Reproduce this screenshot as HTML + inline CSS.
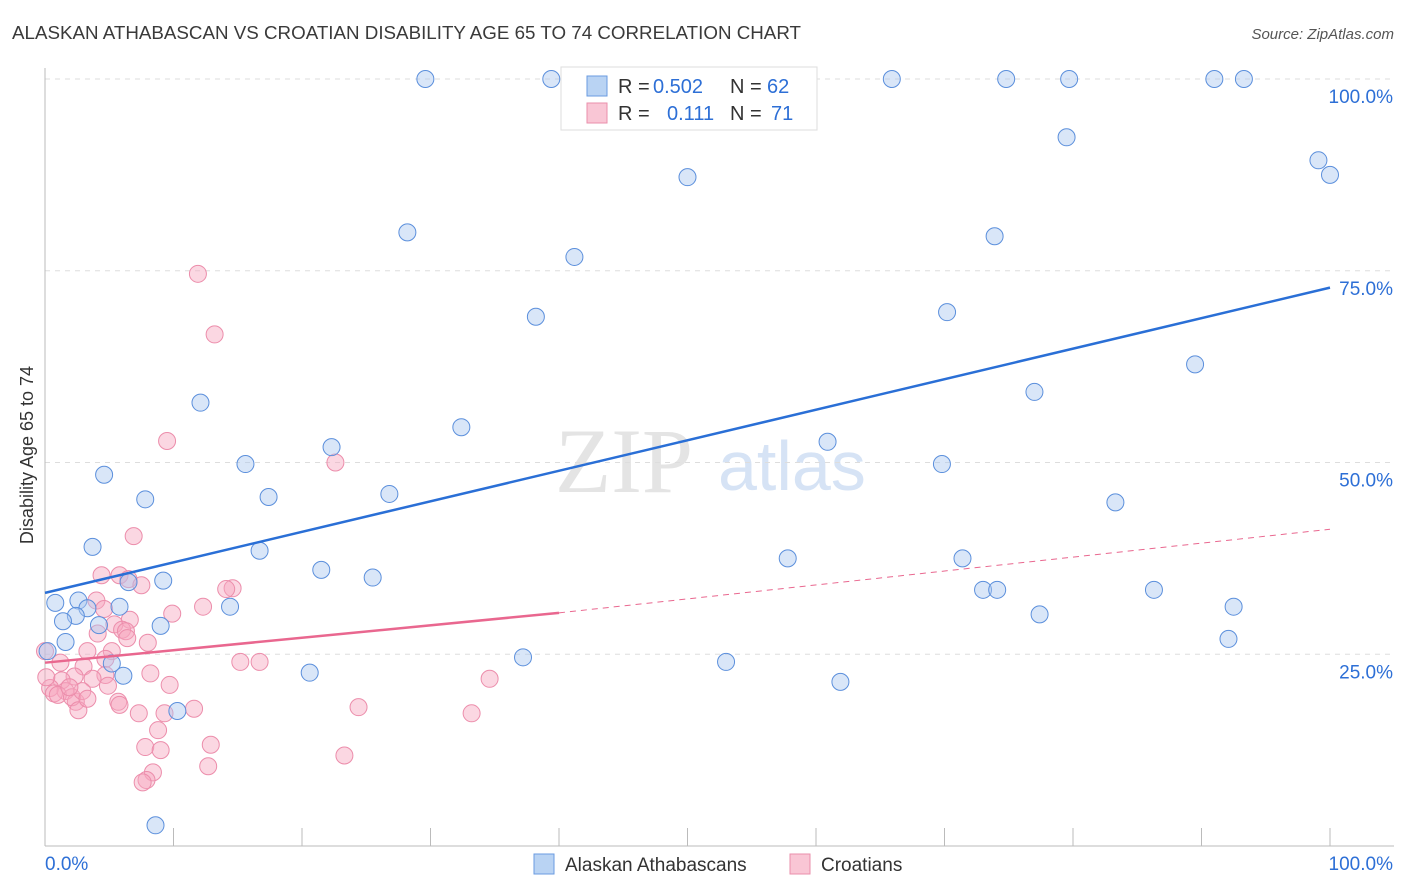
<!DOCTYPE html>
<html><head><meta charset="utf-8"><style>
body{margin:0;background:#fff;font-family:"Liberation Sans",sans-serif;}
svg{display:block}
</style></head><body>
<svg id="chart" width="1406" height="892">
<text x="12" y="39" font-size="18.5" fill="#3a3a3a" textLength="789" lengthAdjust="spacingAndGlyphs">ALASKAN ATHABASCAN VS CROATIAN DISABILITY AGE 65 TO 74 CORRELATION CHART</text>
<text x="1394" y="39" font-size="15" font-style="italic" fill="#555" text-anchor="end">Source: ZipAtlas.com</text>
<text x="33" y="455" font-size="18" fill="#333" text-anchor="middle" transform="rotate(-90 33 455)">Disability Age 65 to 74</text>
<text x="555" y="492" font-size="92" fill="#e4e4e4" font-family="Liberation Serif,serif">ZIP</text>
<text x="718" y="490" font-size="70" fill="#d6e3f5">atlas</text>
<g id="grid"></g><g id="marks"></g>
<g>
<rect x="561" y="67" width="256" height="63" fill="#fff" stroke="#ddd"/>
<rect x="587" y="76" width="20" height="20" fill="#b9d3f3" stroke="#6a9be0"/>
<rect x="587" y="103" width="20" height="20" fill="#f9c6d5" stroke="#ea8fab"/>
<text x="618" y="93" font-size="20" fill="#333">R =</text>
<text x="653" y="93" font-size="20" fill="#2d6fd6">0.502</text>
<text x="730" y="93" font-size="20" fill="#333">N =</text>
<text x="767" y="93" font-size="20" fill="#2d6fd6">62</text>
<text x="618" y="120" font-size="20" fill="#333">R =</text>
<text x="667" y="120" font-size="20" fill="#2d6fd6">0.111</text>
<text x="730" y="120" font-size="20" fill="#333">N =</text>
<text x="771" y="120" font-size="20" fill="#2d6fd6">71</text>
</g>
<g>
<rect x="534" y="854" width="20" height="20" fill="#b9d3f3" stroke="#6a9be0"/>
<text x="565" y="871" font-size="19" fill="#333">Alaskan Athabascans</text>
<rect x="790" y="854" width="20" height="20" fill="#f9c6d5" stroke="#ea8fab"/>
<text x="821" y="871" font-size="19" fill="#333">Croatians</text>
</g>
</svg>
<script>
const yTicks=[25,50,75,100];
const yTickLabels=["25.0%","50.0%","75.0%","100.0%"];
const blueX=[29.6,39.4,65.9,74.8,79.7,91,93.3,79.5,99.1,100,50,28.2,73.9,41.2,38.2,70.2,89.5,77,12.1,32.4,22.3,60.9,15.6,69.8,4.6,17.4,7.8,26.8,83.3,3.7,16.7,57.8,71.4,21.5,25.5,9.2,6.5,73,74.1,86.3,0.8,2.6,14.4,5.8,3.3,92.5,2.4,1.4,4.2,9,77.4,1.6,0.2,92.1,5.2,37.2,53,20.6,6.1,61.9,10.3,8.6];
const blueY=[100,100,100,100,100,100,100,92.4,89.4,87.5,87.2,80,79.5,76.8,69,69.6,62.8,59.2,57.8,54.6,52,52.7,49.8,49.8,48.4,45.5,45.2,45.9,44.8,39,38.5,37.5,37.5,36,35,34.6,34.4,33.4,33.4,33.4,31.7,32,31.2,31.2,31,31.2,30,29.3,28.8,28.7,30.2,26.6,25.4,27,23.8,24.6,24,22.6,22.2,21.4,17.6,2.7];
const pinkX=[11.9,13.2,9.5,22.6,6.9,4.4,5.8,6.5,7.5,14.6,14.1,4,4.6,12.3,9.9,6.6,5.4,6,6.3,4.1,8,3.3,6.4,5.2,15.2,16.7,1.2,4.7,3,8.2,4.7,2.3,3.7,1.3,9.7,4.9,34.6,0.4,1.6,0.7,1,2.4,2.1,5.7,5.8,2.6,11.6,7.3,9.3,24.4,33.2,8.8,12.9,7.8,9,23.3,12.7,8.4,7.9,7.6,2.9,1.9,0,0.1,3.3];
const pinkY=[74.6,66.7,52.8,50,40.4,35.3,35.3,34.8,34,33.6,33.5,32,30.9,31.2,30.3,29.5,28.9,28.2,28,27.7,26.5,25.4,27.1,25.4,24,24,23.9,24.4,23.4,22.5,22.3,22.1,21.8,21.6,21,20.9,21.8,20.6,20.2,19.9,19.7,18.8,19.4,18.8,18.4,17.7,17.9,17.3,17.3,18.1,17.3,15.1,13.2,12.9,12.5,11.8,10.4,9.6,8.6,8.3,20.2,20.7,25.4,22,19.2];
const ox=45,xw=1285,oy=846,yh=767;
const X=v=>ox+v/100*xw, Y=v=>oy-v/100*yh;
const NS="http://www.w3.org/2000/svg";
const grid=document.getElementById('grid'),marks=document.getElementById('marks');
function mk(tag,attrs,parent){const e=document.createElementNS(NS,tag);for(const k in attrs)e.setAttribute(k,attrs[k]);parent.appendChild(e);return e;}
yTicks.forEach((t,i)=>{
 const l=mk('line',{x1:45,x2:1394,y1:Y(t),y2:Y(t),stroke:'#ddd','stroke-dasharray':'5,5'},grid);
 
 
 const tx=mk('text',{x:1393,y:Y(t)+24,'font-size':19,fill:'#2d6fd6','text-anchor':'end'},grid);
 tx.textContent=yTickLabels[i];
 
 
});
const ax=mk('line',{x1:45,x2:45,y1:68,y2:846,stroke:'#bbb'},grid);


const bx=mk('line',{x1:45,x2:1394,y1:846,y2:846,stroke:'#bbb'},grid);


for(let i=1;i<=10;i++){const t=mk('line',{x1:X(i*10),x2:X(i*10),y1:828,y2:846,stroke:'#bbb'},grid);
 
 }
[["0.0%",45,'start'],["100.0%",1393,'end']].forEach(a=>{const t=mk('text',{x:a[1],y:870,'font-size':19,fill:'#2d6fd6','text-anchor':a[2]},grid);t.textContent=a[0];
 
 });
pinkX.forEach((v,i)=>{const c=mk('circle',{cx:X(v),cy:Y(pinkY[i]),r:8.5,fill:'rgba(246,166,190,0.45)',stroke:'#ec8dab','stroke-width':1},marks);
 
 });
blueX.forEach((v,i)=>{const c=mk('circle',{cx:X(v),cy:Y(blueY[i]),r:8.5,fill:'rgba(170,200,240,0.45)',stroke:'#5b8fdc','stroke-width':1},marks);
 
 });
const bl=mk('line',{x1:X(0),y1:Y(33),x2:X(100),y2:Y(72.8),stroke:'#2a6fd6','stroke-width':2.5},marks);


const pl=mk('line',{x1:X(0),y1:Y(23.9),x2:X(40),y2:Y(30.4),stroke:'#e9678f','stroke-width':2.5},marks);


const pd=mk('line',{x1:X(40),y1:Y(30.4),x2:X(100),y2:Y(41.3),stroke:'#e9678f','stroke-width':1,'stroke-dasharray':'6,5'},marks);


</script>
</body></html>
